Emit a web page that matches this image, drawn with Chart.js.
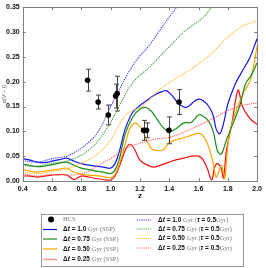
<!DOCTYPE html>
<html><head><meta charset="utf-8">
<script src="https://cdn.jsdelivr.net/npm/chart.js@4.4.0/dist/chart.umd.min.js"></script>
<style>html,body{margin:0;padding:0;background:#fff}#wrap{width:266px;height:268px}</style>
</head><body><div id="wrap"><canvas id="c" width="266" height="268"></canvas></div>
<script>
// HCS measurements
const hcsZ=[0.843,0.915,0.984,1.034,1.045,1.225,1.245,1.398,1.467];
const hcsV=[0.203,0.159,0.133,0.171,0.176,0.102,0.102,0.102,0.159];
const hcsErr=[0.022,0.014,0.020,0.024,0.035,0.020,0.015,0.027,0.025];

// SSP models
const zBlue=[0.4,0.45,0.5,0.55,0.6,0.65,0.7,0.75,0.8,0.85,0.9,0.95,1.0,1.03,1.06,1.1,1.15,1.2,1.25,1.3,1.35,1.38,1.42,1.46,1.5,1.53,1.57,1.6,1.63,1.67,1.7,1.72,1.745,1.77,1.8,1.85,1.9,1.95,2.0];
const vBlue=[0.045,0.042,0.038,0.037,0.040,0.043,0.046,0.040,0.035,0.032,0.030,0.028,0.026,0.035,0.060,0.105,0.138,0.152,0.163,0.173,0.180,0.182,0.172,0.157,0.149,0.150,0.160,0.165,0.162,0.150,0.132,0.105,0.095,0.115,0.155,0.195,0.222,0.248,0.287];
const zGreen=[0.4,0.45,0.5,0.55,0.6,0.65,0.7,0.75,0.8,0.85,0.9,0.95,1.0,1.03,1.06,1.1,1.15,1.2,1.24,1.28,1.32,1.36,1.4,1.45,1.5,1.55,1.6,1.63,1.67,1.7,1.73,1.755,1.79,1.83,1.88,1.92,1.96,2.0];
const vGreen=[0.034,0.031,0.029,0.030,0.033,0.036,0.038,0.032,0.026,0.023,0.020,0.018,0.015,0.022,0.045,0.095,0.128,0.145,0.148,0.140,0.123,0.107,0.100,0.106,0.117,0.118,0.133,0.131,0.120,0.100,0.060,0.054,0.082,0.112,0.150,0.195,0.213,0.238];
const zOrange=[0.4,0.45,0.5,0.55,0.6,0.65,0.7,0.75,0.8,0.85,0.9,0.95,1.0,1.03,1.06,1.1,1.13,1.16,1.19,1.22,1.25,1.28,1.32,1.36,1.4,1.45,1.5,1.55,1.6,1.63,1.67,1.7,1.72,1.74,1.755,1.77,1.78,1.81,1.855,1.91,1.956,2.0];
const vOrange=[0.023,0.020,0.018,0.020,0.022,0.024,0.026,0.018,0.014,0.012,0.011,0.009,0.007,0.013,0.035,0.075,0.105,0.116,0.113,0.100,0.080,0.065,0.061,0.063,0.077,0.083,0.087,0.092,0.096,0.092,0.068,0.035,0.008,0.020,0.032,0.018,0.005,0.094,0.140,0.179,0.205,0.272];
const zRed=[0.4,0.45,0.5,0.55,0.6,0.65,0.7,0.75,0.8,0.85,0.9,0.95,1.0,1.03,1.06,1.1,1.13,1.16,1.2,1.25,1.3,1.35,1.4,1.45,1.5,1.55,1.6,1.63,1.66,1.69,1.71,1.73,1.755,1.77,1.79,1.83,1.87,1.9,1.95,2.0];
const vRed=[0.010,0.010,0.008,0.010,0.012,0.013,0.012,0.003,0.010,0.008,0.005,0.003,0.002,0.010,0.030,0.062,0.074,0.066,0.042,0.032,0.028,0.033,0.038,0.043,0.046,0.050,0.050,0.043,0.025,0.002,0.028,0.035,0.025,0.006,0.060,0.120,0.183,0.150,0.126,0.114];

// tau = 0.5 Gyr models
const zBlueT=[0.4,0.5,0.6,0.7,0.75,0.8,0.85,0.9,0.95,1.0,1.05,1.1,1.15,1.2,1.25,1.3,1.35,1.4,1.45,1.5];
const vBlueT=[0.041,0.038,0.045,0.050,0.057,0.066,0.078,0.093,0.118,0.150,0.178,0.207,0.232,0.252,0.268,0.288,0.310,0.330,0.350,0.370];
const zGreenT=[0.4,0.5,0.6,0.7,0.75,0.8,0.85,0.9,0.95,1.0,1.05,1.1,1.15,1.2,1.25,1.3,1.4,1.5,1.6,1.65,1.7,1.75];
const vGreenT=[0.031,0.030,0.036,0.040,0.045,0.052,0.062,0.076,0.095,0.118,0.145,0.175,0.198,0.213,0.225,0.240,0.270,0.300,0.322,0.335,0.355,0.370];
const zOrangeT=[0.4,0.5,0.6,0.7,0.75,0.8,0.85,0.9,0.95,1.0,1.05,1.1,1.15,1.2,1.25,1.3,1.35,1.4,1.5,1.6,1.7,1.8,1.9,1.95,2.0];
const vOrangeT=[0.018,0.015,0.019,0.024,0.030,0.036,0.043,0.052,0.065,0.082,0.108,0.132,0.142,0.147,0.160,0.175,0.188,0.198,0.216,0.236,0.260,0.290,0.312,0.318,0.322];
const zRedT=[0.4,0.5,0.6,0.7,0.8,0.85,0.9,0.95,1.0,1.05,1.1,1.2,1.3,1.4,1.5,1.6,1.7,1.8,1.9,2.0];
const vRedT=[0.014,0.010,0.013,0.012,0.014,0.020,0.028,0.037,0.045,0.056,0.066,0.076,0.084,0.088,0.098,0.112,0.126,0.142,0.152,0.157];

const xTicks=[0.4,0.6,0.8,1.0,1.2,1.4,1.6,1.8,2.0];
const yTicks=[0,0.05,0.10,0.15,0.20,0.25,0.30,0.35];
const dtLabels=['1.0','0.75','0.50','0.25'];

const C={blue:'#1414e6',green:'#1a8c1a',orange:'#ffa500',red:'#f01010',
  blueT:'#3a3aff',greenT:'#3f9f3f',orangeT:'#ffb52e',redT:'#ff5c5c'};

function line(z,v,col,dash,w){
  return {type:'line',data:z.map((x,i)=>({x:x,y:v[i]})),borderColor:col,borderWidth:w,
    borderDash:dash,pointRadius:0,tension:0.35,fill:false};
}

const SANS='"Liberation Sans", Arial, sans-serif';
const SERIF='"Liberation Serif", "Times New Roman", serif';

// error bars on HCS points, drawn just before the points
const errBars={id:'errBars',beforeDatasetDraw(chart,args){
  if(args.index!==0) return;
  const {ctx,scales:{x,y}}=chart;
  ctx.save();ctx.strokeStyle='#444';ctx.lineWidth=1;
  hcsZ.forEach((z,i)=>{
    let px=Math.round(x.getPixelForValue(z))+0.5;
    let lo=y.getPixelForValue(hcsV[i]-hcsErr[i]),hi=y.getPixelForValue(hcsV[i]+hcsErr[i]);
    ctx.beginPath();
    ctx.moveTo(px,lo);ctx.lineTo(px,hi);
    ctx.moveTo(px-2.5,lo);ctx.lineTo(px+2.5,lo);
    ctx.moveTo(px-2.5,hi);ctx.lineTo(px+2.5,hi);
    ctx.stroke();
  });
  ctx.restore();
}};

// frame + inward ticks on all four sides
const frame={id:'frame',afterDatasetsDraw(chart){
  const {ctx,chartArea:a,scales:{x,y}}=chart;
  ctx.save();ctx.strokeStyle='#808080';ctx.lineWidth=1;
  ctx.strokeRect(Math.round(a.left)+0.5,Math.round(a.top)+0.5,Math.round(a.right-a.left),Math.round(a.bottom-a.top));
  ctx.beginPath();
  xTicks.forEach(t=>{let p=Math.round(x.getPixelForValue(t))+0.5;
    ctx.moveTo(p,a.bottom);ctx.lineTo(p,a.bottom-3);ctx.moveTo(p,a.top);ctx.lineTo(p,a.top+3);});
  yTicks.forEach(t=>{let p=Math.round(y.getPixelForValue(t))+0.5;
    ctx.moveTo(a.left,p);ctx.lineTo(a.left+3,p);ctx.moveTo(a.right,p);ctx.lineTo(a.right-3,p);});
  ctx.stroke();ctx.restore();
}};

function parts(ctx,x,y,list){
  list.forEach(p=>{ctx.font=p[1];ctx.fillStyle=p[2];ctx.fillText(p[0],x,y);x+=ctx.measureText(p[0]).width;});
}

// two-column legend with mixed fonts
const legendBox={id:'legendBox',afterDraw(chart){
  const ctx=chart.ctx;
  ctx.save();
  ctx.fillStyle='#fff';ctx.fillRect(41,214,203,53);
  ctx.strokeStyle='#999';ctx.lineWidth=1;ctx.strokeRect(41.5,214.5,202,52);
  ctx.textBaseline='middle';
  const fb='bold 6.5px '+SANS, fi='bold italic 6.5px '+SANS, fs='6.5px '+SERIF;
  const dk='#111', gr='#777';
  // HCS
  ctx.fillStyle='#000';ctx.beginPath();ctx.arc(51,219.5,3,0,Math.PI*2);ctx.fill();
  parts(ctx,63,219.5,[['HCS',fs,gr]]);
  const solid=[C.blue,C.green,C.orange,'#ff9a9a'];
  const dotted=[C.blueT,C.greenT,C.orangeT,C.redT];
  const rowL=[229.5,239,249,259.5], rowR=[220,229,238.5,248];
  dtLabels.forEach((d,i)=>{
    ctx.setLineDash([]);ctx.strokeStyle=solid[i];ctx.lineWidth=i==3?1.6:1.2;
    ctx.beginPath();ctx.moveTo(43,rowL[i]);ctx.lineTo(57,rowL[i]);ctx.stroke();
    parts(ctx,63,rowL[i],[['Δ',fb,dk],['t',fi,dk],[' = '+d+' ',fb,dk],['Gyr (SSP)',fs,gr]]);
    ctx.setLineDash([1.2,1]);ctx.strokeStyle=dotted[i];ctx.lineWidth=1;
    ctx.beginPath();ctx.moveTo(137,rowR[i]);ctx.lineTo(151,rowR[i]);ctx.stroke();
    parts(ctx,158,rowR[i],[['Δ',fb,dk],['t',fi,dk],[' = '+d+' ',fb,dk],['Gyr (',fs,gr],['τ',fi,dk],[' = 0.5',fb,dk],['Gyr)',fs,gr]]);
  });
  ctx.restore();
}};

const datasets=[
  {type:'scatter',data:hcsZ.map((x,i)=>({x:x,y:hcsV[i]})),pointRadius:2.8,pointBackgroundColor:'#000',pointBorderColor:'#000',borderWidth:0},
  line(zBlueT,vBlueT,C.blueT,[1.2,1],1.1),
  line(zGreenT,vGreenT,C.greenT,[1.2,1],1.1),
  line(zOrangeT,vOrangeT,C.orangeT,[1.2,1],1.1),
  line(zRedT,vRedT,C.redT,[1.2,1],1.1),
  line(zBlue,vBlue,C.blue,[],1.2),
  line(zGreen,vGreen,C.green,[],1.2),
  line(zOrange,vOrange,C.orange,[],1.2),
  line(zRed,vRed,C.red,[],1.2)
];

new Chart(document.getElementById('c'),{
  data:{datasets:datasets},
  options:{responsive:false,animation:false,
    layout:{padding:{left:0,right:4.7,top:2.7,bottom:67}},
    plugins:{legend:{display:false},tooltip:{enabled:false}},
    scales:{
      x:{type:'linear',min:0.4,max:2.0,afterFit:s=>{s.height=20;},
        afterBuildTicks:s=>{s.ticks=xTicks.map(v=>({value:v}));},
        ticks:{padding:4,color:'#111',font:{family:SANS,size:7,weight:'bold'},callback:v=>v.toFixed(1),maxRotation:0,autoSkip:false},
        grid:{display:false,drawTicks:false},border:{display:false},
        title:{display:true,text:'z',color:'#111',font:{family:SERIF,size:9,style:'italic',weight:'bold'},padding:{top:0,bottom:0}}},
      y:{type:'linear',min:0,max:0.35,afterFit:s=>{s.width=22.7;},
        afterBuildTicks:s=>{s.ticks=yTicks.map(v=>({value:v}));},
        ticks:{padding:3,color:'#111',font:{family:SANS,size:7,weight:'bold'},callback:v=>v.toFixed(2),autoSkip:false},
        grid:{display:false,drawTicks:false},border:{display:false},
        title:{display:true,text:'σ(V − I)',color:'#555',font:{family:SANS,size:5.5},padding:{top:1,bottom:0}}}
    }
  },
  plugins:[errBars,frame,legendBox]
});
</script></body></html>
